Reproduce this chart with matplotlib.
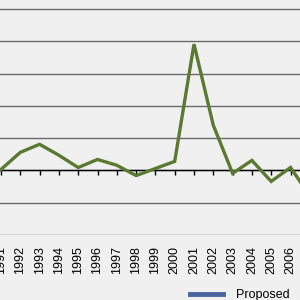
import matplotlib.pyplot as plt
from matplotlib.lines import Line2D

plt.rcParams['font.family'] = ['Liberation Sans', 'DejaVu Sans']

years = ['1991', '1992', '1993', '1994', '1995', '1996', '1997', '1998', '1999',
         '2000', '2001', '2002', '2003', '2004', '2005', '2006', '2007']
values = [0.03, 0.56, 0.81, 0.47, 0.09, 0.34, 0.16, -0.16, 0.06,
          0.28, 3.91, 1.40, -0.09, 0.31, -0.34, 0.09, -0.78]
grid_levels = [-2, -1, 0, 1, 2, 3, 4, 5]

bg = '#f0f0f0'
fig = plt.figure(figsize=(3, 3), dpi=100, facecolor=bg)
ax = fig.add_axes([0, 65 / 300, 1, 235 / 300], facecolor=bg)

x = list(range(len(years)))
ax.plot(x, values, color='#5a7a32', linewidth=2.4, solid_joinstyle='miter', zorder=3)

ax.set_yticks(grid_levels)
ax.yaxis.grid(True, color='#6a6a6a', linewidth=1.0)
ax.tick_params(axis='y', left=False, labelleft=False)
ax.set_axisbelow(True)

for s in ['top', 'left', 'right']:
    ax.spines[s].set_visible(False)
ax.spines['bottom'].set_position(('data', 0))
ax.spines['bottom'].set_color('black')
ax.spines['bottom'].set_linewidth(1.0)

ax.set_xticks(x)
ax.set_xticklabels(years, rotation=90, fontsize=9)
ax.tick_params(axis='x', direction='out', length=3.5, width=1, color='black', pad=51)

# limits after the ticks, otherwise set_xticks widens the view
ax.set_xlim(-1 / 19.3, 299 / 19.3)
ax.set_ylim(-2, 170 / 32.2)

handle = Line2D([], [], color='#4a64a0', linewidth=3.5)
fig.legend([handle], ['Proposed'], loc='upper left', bbox_to_anchor=(190 / 300, 1 - 289 / 300),
           frameon=False, fontsize=9, handlelength=2.6, handletextpad=1.1,
           borderpad=0, borderaxespad=0)

fig.savefig('out.png', dpi=100, facecolor=bg)
